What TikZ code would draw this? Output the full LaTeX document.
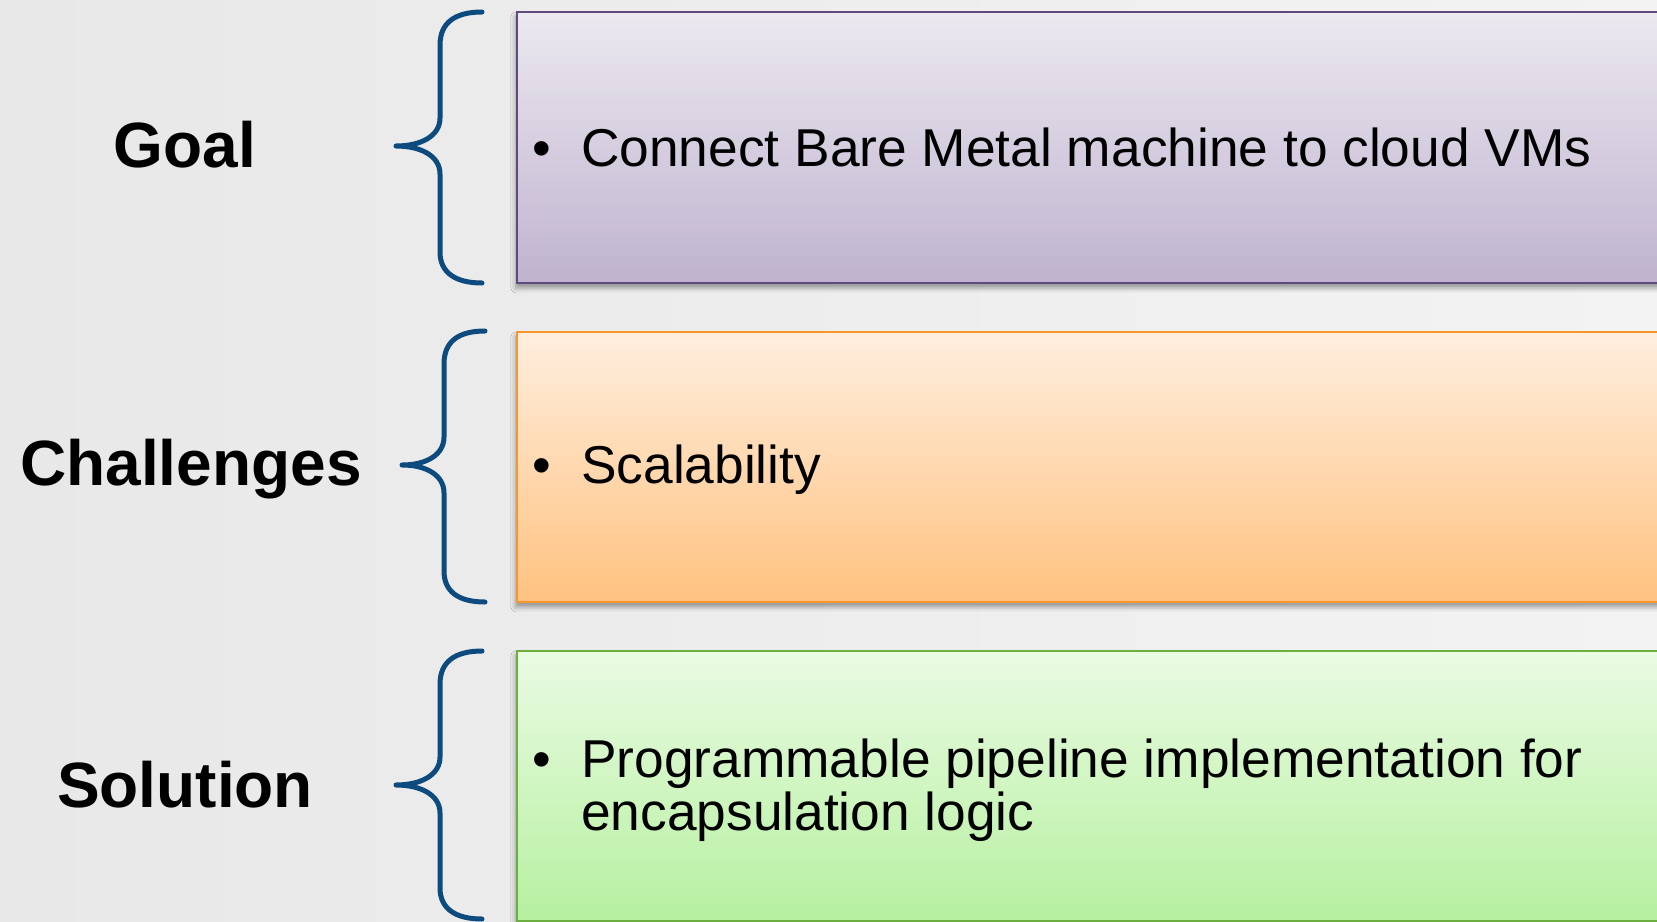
\documentclass[tikz,border=0pt]{standalone}
\usepackage{fontspec}
\setmainfont{Liberation Sans}
\usetikzlibrary{shadows.blur}

\definecolor{bgleft}{HTML}{E8E8E8}
\definecolor{bgright}{HTML}{F3F3F3}
\definecolor{bracecol}{HTML}{0D4A7E}
\definecolor{goaltop}{HTML}{ECE9F0}
\definecolor{goalbot}{HTML}{BFB3CF}
\definecolor{goaledge}{HTML}{5F4A7E}
\definecolor{chaltop}{HTML}{FFEEDF}
\definecolor{chalbot}{HTML}{FFC280}
\definecolor{chaledge}{HTML}{F7962E}
\definecolor{soltop}{HTML}{EAFBE3}
\definecolor{solbot}{HTML}{B6F0A0}
\definecolor{soledge}{HTML}{6CAF40}

\tikzset{
  panel/.style={draw, line width=1.6pt, anchor=north west, minimum width=1190pt,
    inner sep=0pt,
    blur shadow={shadow xshift=-1pt, shadow yshift=-5pt, shadow blur radius=5pt, shadow opacity=40}},
  heading/.style={anchor=base, inner sep=0pt, font=\fontsize{64}{70}\selectfont\bfseries},
  bodytext/.style={anchor=base west, inner sep=0pt, align=left,
    font=\fontsize{53.3}{53}\selectfont},
  bulletmark/.style={anchor=base, inner sep=0pt, font=\fontsize{53.3}{53}\selectfont},
  curly/.style={draw=bracecol, line width=5pt, line cap=round, line join=round},
}

\begin{document}
\begin{tikzpicture}[x=1pt,y=-1pt]
\useasboundingbox (0,0) rectangle (1657,921);
\fill[left color=bgleft, right color=bgright] (0,0) rectangle (1657,921);

% coloured panels
\node[panel, draw=goaledge, top color=goaltop, bottom color=goalbot, minimum height=271pt] (goalbox) at (516,11) {};
\node[panel, draw=chaledge, top color=chaltop, bottom color=chalbot, minimum height=270pt] (chalbox) at (516,331) {};
\node[panel, draw=soledge, top color=soltop, bottom color=solbot, minimum height=270pt] (solbox) at (516,650) {};

% braces
\path[curly] (482,12) .. controls (456,12) and (440,22) .. (440,45)
  -- (440,118) .. controls (440,136) and (421,146) .. (396,146)
  .. controls (421,146) and (440,156) .. (440,174)
  -- (440,252) .. controls (440,273) and (456,283) .. (482,283);
\path[curly] (485,331) .. controls (459,331) and (444,341) .. (444,364)
  -- (444,437) .. controls (444,455) and (426,465) .. (402,465)
  .. controls (426,465) and (444,475) .. (444,493)
  -- (444,571) .. controls (444,592) and (459,602) .. (485,602);
\path[curly] (482,651) .. controls (456,651) and (440,661) .. (440,684)
  -- (440,757) .. controls (440,775) and (421,785) .. (396,785)
  .. controls (421,785) and (440,795) .. (440,813)
  -- (440,888) .. controls (440,909) and (456,919) .. (482,919);

% headings
\node[heading] (goal) at (185,167) {Goal};
\node[heading] (chal) at (191,485) {Challenges};
\node[heading] (sol) at (185,807) {Solution};

% bullet items
\node[bulletmark] (b1) at (542,166) {•};
\node[bodytext] (t1) at (581,166) {Connect Bare Metal machine to cloud VMs};
\node[bulletmark] (b2) at (542,483) {•};
\node[bodytext] (t2) at (581,483) {Scalability};
\node[bulletmark] (b3) at (542,777) {•};
\node[bodytext] (t3a) at (581,777) {Programmable pipeline implementation for};
\node[bodytext] (t3b) at (581,830) {encapsulation logic};
\end{tikzpicture}
\end{document}
